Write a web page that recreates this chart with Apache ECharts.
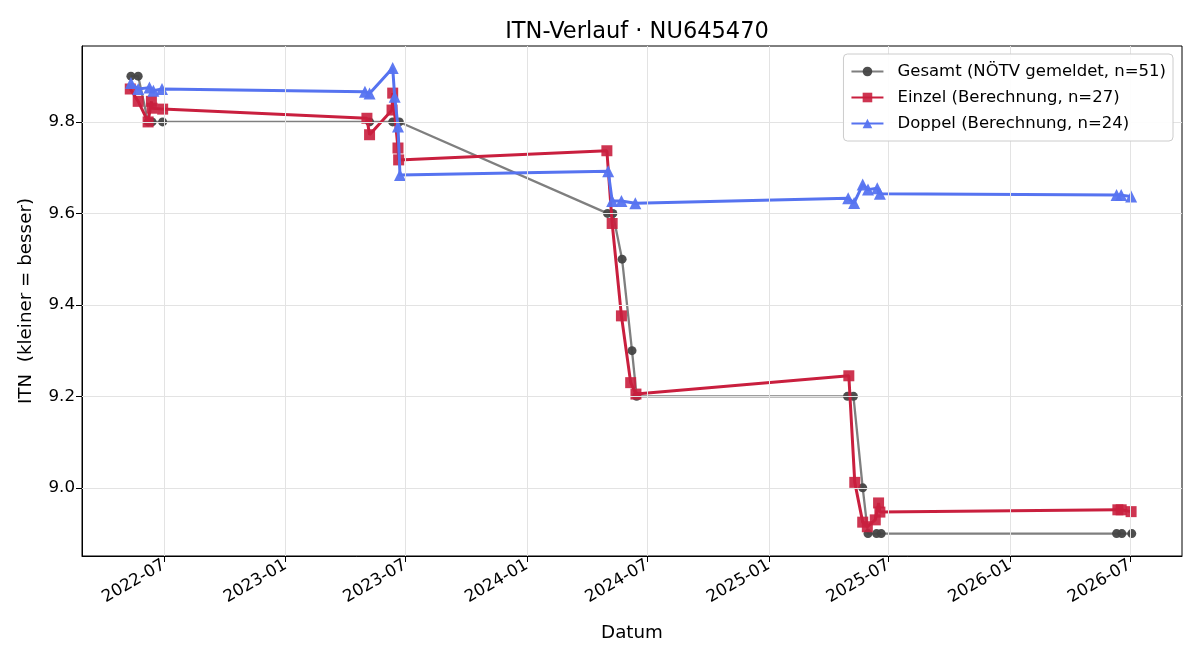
<!DOCTYPE html>
<html><head><meta charset="utf-8">
<script src="https://cdn.jsdelivr.net/npm/echarts@6/dist/echarts.min.js"></script>
<style>html,body{margin:0;padding:0;background:#fff}#c{width:1200px;height:660px}</style>
</head><body><div id="c"></div>
<script>
// ---- data ----
const gesamtDates = ['2022-05-12','2022-05-23','2022-06-07','2022-06-13','2022-06-29',
  '2023-05-08','2023-06-12','2023-06-22',
  '2024-05-02','2024-05-10','2024-05-24','2024-06-08','2024-06-15',
  '2025-04-30','2025-05-09','2025-05-23','2025-05-31','2025-06-13','2025-06-20',
  '2026-06-11','2026-06-19','2026-07-04'];
const gesamtValues = [9.9,9.9,9.8,9.8,9.8,
  9.8,9.8,9.8,
  9.6,9.6,9.5,9.3,9.2,
  9.2,9.2,9.0,8.9,8.9,8.9,
  8.9,8.9,8.9];

const einzelDates = ['2022-05-11','2022-05-23','2022-06-07','2022-06-12','2022-06-13','2022-06-29',
  '2023-05-04','2023-05-08','2023-06-11','2023-06-12','2023-06-20','2023-06-21',
  '2024-05-01','2024-05-09','2024-05-23','2024-06-06','2024-06-14',
  '2025-05-02','2025-05-11','2025-05-23','2025-05-30','2025-06-11','2025-06-16','2025-06-18',
  '2026-06-13','2026-06-18','2026-07-03'];
const einzelValues = [9.872,9.845,9.800,9.845,9.830,9.828,
  9.808,9.772,9.826,9.863,9.743,9.717,
  9.737,9.578,9.376,9.230,9.205,
  9.245,9.012,8.925,8.915,8.930,8.967,8.947,
  8.952,8.952,8.948];

const doppelDates = ['2022-05-12','2022-05-23','2022-06-09','2022-06-15','2022-06-28',
  '2023-05-01','2023-05-08','2023-06-12','2023-06-15','2023-06-20','2023-06-23',
  '2024-05-03','2024-05-09','2024-05-23','2024-06-13',
  '2025-05-01','2025-05-10','2025-05-23','2025-05-31','2025-06-14','2025-06-18',
  '2026-06-11','2026-06-18','2026-07-03'];
const doppelValues = [9.885,9.872,9.875,9.868,9.872,
  9.866,9.862,9.918,9.855,9.790,9.684,
  9.692,9.627,9.627,9.622,
  9.633,9.623,9.663,9.652,9.655,9.643,
  9.640,9.640,9.637];

const xTickLabels = ['2022-07','2023-01','2023-07','2024-01','2024-07','2025-01','2025-07','2026-01','2026-07'];
const yTickValues = [9.0, 9.2, 9.4, 9.6, 9.8];

const seriesNames = ['Gesamt (NÖTV gemeldet, n=51)','Einzel (Berechnung, n=27)','Doppel (Berechnung, n=24)'];
const titleText = 'ITN-Verlauf · NU645470';

// ---- helpers ----
function ts(s){ const p = s.split('-').map(Number); return Date.UTC(p[0], p[1]-1, p[2] || 1); }
function pairs(d, v){ return d.map((x,i)=>[ts(x), v[i]]); }
const xTicks = xTickLabels.map(ts);
const FONT = 'DejaVu Sans';

const grayLine = '#7f7f7f', grayMark = '#444444';
const red = '#c91f3e', blue = '#5673f0';

const chart = echarts.init(document.getElementById('c'), null, {renderer:'canvas'});
chart.setOption({
  animation: false,
  backgroundColor: '#fff',
  title: {
    text: titleText, left: 632, top: 16, textAlign: 'center',
    textStyle: {fontFamily: FONT, fontSize: 22.5, fontWeight: 'normal', color: '#000'}
  },
  legend: {
    orient: 'vertical', right: 27, top: 54, z: 20,
    padding: [9, 7, 9, 7],
    itemGap: 9, itemWidth: 32, itemHeight: 12,
    backgroundColor: 'rgba(255,255,255,0.9)',
    borderColor: '#cccccc', borderWidth: 1, borderRadius: 4,
    textStyle: {fontFamily: FONT, fontSize: 16.5, color: '#000', padding: [0,0,0,9]},
    data: seriesNames
  },
  grid: {left: 82, right: 18, top: 46, bottom: 104, show: true, borderColor: '#000', borderWidth: 1, backgroundColor: 'transparent'},
  xAxis: {
    type: 'value', min: ts('2022-02-27'), max: ts('2026-09-18'),
    name: 'Datum', nameLocation: 'middle', nameGap: 68,
    nameTextStyle: {fontFamily: FONT, fontSize: 18.3, color: '#000'},
    axisLine: {lineStyle: {color: '#000', width: 1}},
    axisTick: {show: true, length: 6, lineStyle: {color: '#000'}, customValues: xTicks},
    axisLabel: {
      customValues: xTicks, rotate: 30, margin: 8,
      fontFamily: FONT, fontSize: 16.7, color: '#000',
      formatter: function(v){ const d = new Date(v); const m = d.getUTCMonth()+1; return d.getUTCFullYear() + '-' + (m<10?'0':'') + m; }
    },
    splitLine: {show: false}
  },
  yAxis: {
    type: 'value', min: 8.851, max: 9.966,
    name: 'ITN  (kleiner = besser)', nameLocation: 'middle', nameGap: 47,
    nameTextStyle: {fontFamily: FONT, fontSize: 18.3, color: '#000'},
    axisLine: {show: true, lineStyle: {color: '#000', width: 1}},
    axisTick: {show: true, length: 6, lineStyle: {color: '#000'}, customValues: yTickValues},
    axisLabel: {customValues: yTickValues, margin: 7, fontFamily: FONT, fontSize: 16.7, color: '#000',
      formatter: function(v){ return Number(v).toFixed(1); }},
    splitLine: {show: false}
  },
  series: [
    {
      type: 'line', name: '_grid', data: [], z: 1, silent: true,
      markLine: {
        silent: true, symbol: ['none','none'], label: {show: false},
        lineStyle: {color: '#e3e3e3', width: 1, type: 'solid'},
        data: xTicks.map(t => ({xAxis: t})).concat(yTickValues.map(v => ({yAxis: v})))
      }
    },
    {
      name: seriesNames[0], type: 'line', z: 2,
      data: pairs(gesamtDates, gesamtValues),
      symbol: 'circle', symbolSize: 9,
      lineStyle: {color: grayLine, width: 2.3},
      itemStyle: {color: grayMark, opacity: 0.95}
    },
    {
      name: seriesNames[1], type: 'line', z: 3,
      data: pairs(einzelDates, einzelValues),
      symbol: 'rect', symbolSize: 11,
      lineStyle: {color: red, width: 3},
      itemStyle: {color: red, opacity: 0.9}
    },
    {
      name: seriesNames[2], type: 'line', z: 4,
      data: pairs(doppelDates, doppelValues),
      symbol: 'triangle', symbolSize: 12,
      lineStyle: {color: blue, width: 3},
      itemStyle: {color: blue, opacity: 0.95}
    }
  ]
});
</script>
</body></html>
